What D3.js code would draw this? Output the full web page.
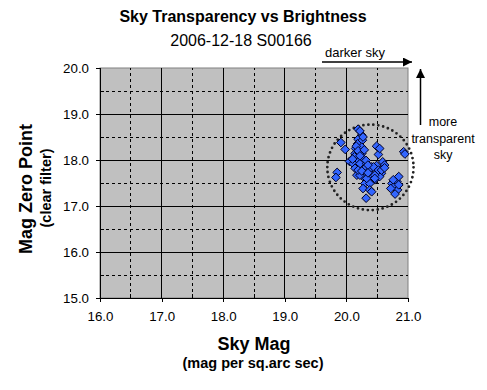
<!DOCTYPE html>
<html>
<head>
<meta charset="utf-8">
<script src="https://cdn.jsdelivr.net/npm/d3@7"></script>
<style>
  body { margin: 0; background: #fff; }
  svg { display: block; font-family: Arial, "Liberation Sans", sans-serif; }
</style>
</head>
<body>
<div id="chart"></div>
<script>
// sky brightness (mag per sq.arc sec) and zero point
const skyMag = [
  20.19, 20.25, 20.19, 20.26, 19.91, 20.18, 19.98, 20.15, 20.25, 20.49,
  20.14, 20.25, 20.17, 20.27, 20.05, 20.11, 20.22, 20.33, 20.52, 20.41,
  20.49, 20.14, 20.30, 20.38, 20.55, 20.17, 20.27, 20.41, 20.46, 20.30,
  20.38, 20.27, 20.38, 20.32, 20.93, 20.95, 20.54, 20.59, 20.62, 20.57,
  20.54, 20.74, 20.77, 20.82, 20.83, 20.79, 20.72, 20.85, 20.76, 20.85,
  19.85, 19.83, 20.41, 20.44, 20.52, 20.46, 20.22, 20.33, 20.46, 20.57,
  20.22, 20.27, 20.16, 20.19, 20.29, 20.13, 20.22, 20.32, 20.10, 20.35,
  20.19, 20.25, 20.35, 20.62
];
const zeroPoint = [
  18.67, 18.54, 18.45, 18.43, 18.38, 18.35, 18.23, 18.25, 18.28, 18.30,
  18.14, 18.14, 18.03, 18.03, 17.97, 17.92, 17.92, 17.92, 18.12, 17.85,
  17.88, 17.82, 17.82, 17.78, 17.75, 17.67, 17.64, 17.67, 17.57, 17.49,
  17.49, 17.38, 17.35, 17.17, 18.18, 18.13, 18.25, 17.96, 17.89, 17.71,
  17.64, 17.49, 17.42, 17.53, 17.35, 17.26, 17.38, 17.46, 17.57, 17.64,
  17.73, 17.62, 17.31, 17.85, 17.78, 17.67, 17.67, 17.60, 17.60, 17.78,
  18.63, 18.50, 18.30, 18.20, 18.22, 18.07, 18.09, 17.99, 18.02, 17.89,
  17.78, 17.76, 17.72, 17.83
];
const xTicks = [16, 17, 18, 19, 20, 21];
const yTicks = [15, 16, 17, 18, 19, 20];
const halfTicks = [0.5, 1.5, 2.5, 3.5, 4.5];

const W = 487, H = 390;
const m = { left: 100, top: 68, right: 79, bottom: 92 };
const FONT = 'Arial, "Liberation Sans", sans-serif';

const svg = d3.select('#chart').append('svg').attr('width', W).attr('height', H);

const x = d3.scaleLinear().domain([16, 21]).range([m.left, W - m.right]);
const y = d3.scaleLinear().domain([15, 20]).range([H - m.bottom, m.top]);

// plot area
svg.append('rect')
  .attr('x', x(16)).attr('y', y(20))
  .attr('width', x(21) - x(16)).attr('height', y(15) - y(20))
  .attr('fill', '#c0c0c0').attr('stroke', '#808080');

// grid: solid on whole numbers, dashed on halves
const g = svg.append('g').attr('stroke', '#000').attr('shape-rendering', 'crispEdges');
xTicks.slice(1, -1).forEach(v => {
  g.append('line').attr('x1', x(v)).attr('x2', x(v)).attr('y1', y(15)).attr('y2', y(20));
});
yTicks.slice(1, -1).forEach(v => {
  g.append('line').attr('x1', x(16)).attr('x2', x(21)).attr('y1', y(v)).attr('y2', y(v));
});
halfTicks.forEach(h => {
  g.append('line').attr('x1', x(16 + h)).attr('x2', x(16 + h)).attr('y1', y(15)).attr('y2', y(20))
    .attr('stroke-dasharray', '3,3');
  g.append('line').attr('x1', x(16)).attr('x2', x(21)).attr('y1', y(15 + h)).attr('y2', y(15 + h))
    .attr('stroke-dasharray', '3,3');
});

// axes
const fmt = d3.format('.1f');
const xAxis = svg.append('g').attr('transform', `translate(0,${y(15)})`)
  .call(d3.axisBottom(x).tickValues(xTicks).tickFormat(fmt).tickSize(4).tickPadding(10));
const yAxis = svg.append('g').attr('transform', `translate(${x(16)},0)`)
  .call(d3.axisLeft(y).tickValues(yTicks).tickFormat(fmt).tickSize(4).tickPadding(7));
[xAxis, yAxis].forEach(a => {
  a.selectAll('text').attr('font-size', 13.3).attr('font-family', FONT).attr('fill', '#000');
  a.selectAll('line, path').attr('stroke', '#000').attr('shape-rendering', 'crispEdges');
});
// minor ticks inside
halfTicks.forEach(h => {
  svg.append('line').attr('x1', x(16 + h)).attr('x2', x(16 + h)).attr('y1', y(15)).attr('y2', y(15) - 4)
    .attr('stroke', '#000').attr('shape-rendering', 'crispEdges');
  svg.append('line').attr('x1', x(16)).attr('x2', x(16) + 4).attr('y1', y(15 + h)).attr('y2', y(15 + h))
    .attr('stroke', '#000').attr('shape-rendering', 'crispEdges');
});

// dotted ring around the cluster
svg.append('ellipse')
  .attr('cx', x(20.39)).attr('cy', y(17.84))
  .attr('rx', x(20.39 + 0.7) - x(20.39)).attr('ry', y(17.84) - y(17.84 + 0.93))
  .attr('fill', 'none').attr('stroke', '#222').attr('stroke-width', 2.8)
  .attr('stroke-linecap', 'round').attr('stroke-dasharray', '0,5');

// points
const diamond = d3.symbol().type(d3.symbolDiamond2).size(48);
svg.append('g').selectAll('path').data(skyMag.map((v, i) => [v, zeroPoint[i]]))
  .join('path')
  .attr('transform', d => `translate(${x(d[0])},${y(d[1])})`)
  .attr('d', diamond)
  .attr('fill', '#3366ff').attr('stroke', '#000022').attr('stroke-width', 1);

// titles
svg.append('text').attr('x', 243).attr('y', 22).attr('text-anchor', 'middle')
  .attr('font-size', 16).attr('font-weight', 'bold').text('Sky Transparency vs Brightness');
svg.append('text').attr('x', 241).attr('y', 46).attr('text-anchor', 'middle')
  .attr('font-size', 16).text('2006-12-18 S00166');

svg.append('text').attr('x', 254).attr('y', 350).attr('text-anchor', 'middle')
  .attr('font-size', 18).attr('font-weight', 'bold').text('Sky Mag');
svg.append('text').attr('x', 253).attr('y', 368).attr('text-anchor', 'middle')
  .attr('font-size', 14.5).attr('font-weight', 'bold').text('(mag per sq.arc sec)');

svg.append('text').attr('transform', 'translate(32,189) rotate(-90)').attr('text-anchor', 'middle')
  .attr('font-size', 18).attr('font-weight', 'bold').text('Mag Zero Point');
svg.append('text').attr('transform', 'translate(51,188) rotate(-90)').attr('text-anchor', 'middle')
  .attr('font-size', 14.5).attr('font-weight', 'bold').text('(clear filter)');

// annotation arrows
svg.append('defs').append('marker')
  .attr('id', 'head').attr('viewBox', '0 0 10 10').attr('refX', 10).attr('refY', 5)
  .attr('markerWidth', 10).attr('markerHeight', 9).attr('markerUnits', 'userSpaceOnUse')
  .attr('orient', 'auto')
  .append('path').attr('d', 'M0,0L10,5L0,10Z').attr('fill', '#000');

svg.append('line').attr('x1', 322).attr('y1', 62).attr('x2', 412).attr('y2', 62)
  .attr('stroke', '#000').attr('stroke-width', 1.5).attr('marker-end', 'url(#head)');
svg.append('text').attr('x', 325).attr('y', 57).attr('font-size', 13).text('darker sky');

svg.append('line').attr('x1', 420.5).attr('y1', 125).attr('x2', 420.5).attr('y2', 69)
  .attr('stroke', '#000').attr('stroke-width', 1.5).attr('marker-end', 'url(#head)');
['more', 'transparent', 'sky'].forEach((t, i) => {
  svg.append('text').attr('x', 443).attr('y', 126 + i * 16.5).attr('text-anchor', 'middle')
    .attr('font-size', 12.5).text(t);
});
</script>
</body>
</html>
